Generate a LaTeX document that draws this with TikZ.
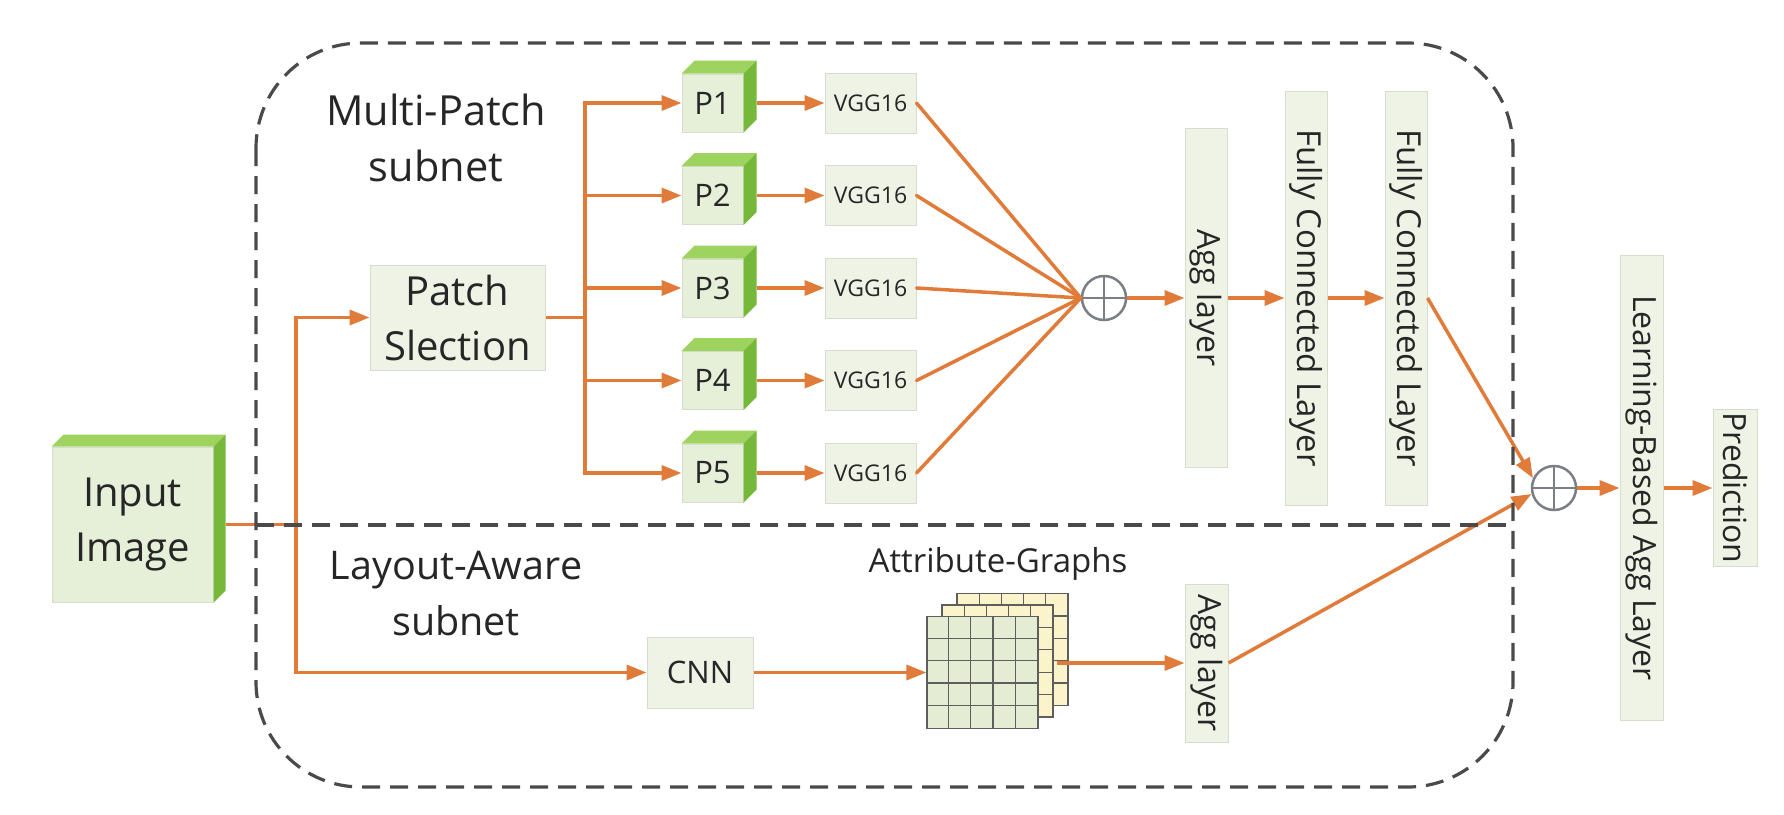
\documentclass[tikz,border=0pt]{standalone}
\usepackage{fontspec}
\setmainfont{Open Sans}
\usepackage{graphicx}
\usetikzlibrary{arrows.meta}
\definecolor{arr}{HTML}{E07B39}
\definecolor{boxfill}{HTML}{EFF3E6}
\definecolor{boxline}{HTML}{D6DDCC}
\definecolor{cubefill}{HTML}{E6EFD8}
\definecolor{greentop}{HTML}{9DD35E}
\definecolor{greenside}{HTML}{76B83A}
\definecolor{txt}{HTML}{262626}
\definecolor{dashc}{HTML}{4A4A4A}
\definecolor{gridfront}{HTML}{E4EDD4}
\definecolor{gridback}{HTML}{FBF4CB}
\definecolor{gridl}{HTML}{5E5E5E}
\definecolor{opl}{HTML}{7A7F85}
\newcommand{\cubeside}[2]{%
  \fill[greentop] (#1.north west) -- ++(#2,-#2) -- ([shift={(#2,-#2)}]#1.north east) -- (#1.north east) -- cycle;
  \fill[greenside] (#1.north east) -- ++(#2,-#2) -- ([shift={(#2,-#2)}]#1.south east) -- (#1.south east) -- cycle;}
\begin{document}
\begin{tikzpicture}[x=1pt,y=-1pt,
  box/.style={draw=boxline, line width=1pt, fill=boxfill, inner sep=0pt, text=txt, align=center},
  cube/.style={box, fill=cubefill},
  bigfont/.style={font=\fontsize{40}{55}\selectfont},
  midfont/.style={font=\fontsize{32}{38}\selectfont},
  fcfont/.style={font=\fontsize{33}{38}\selectfont},
  smallfont/.style={font=\fontsize{23}{28}\selectfont},
  lbl/.style={text=txt, align=center, inner sep=0pt},
  conn/.style={draw=arr, line width=3.5pt},
  arrow/.style={conn, -{Triangle[length=20pt,width=15pt]}},
  oplus/.style={circle, draw=opl, line width=2.5pt, minimum size=44pt, inner sep=0pt},
  dashbox/.style={draw=dashc, line width=3.2pt, dash pattern=on 18pt off 10pt},
  gridline/.style={draw=gridl, line width=1.3pt}
]
\useasboundingbox (0,0) rectangle (1784,814);
\fill[white] (0,0) rectangle (1784,814);

% ---------- nodes ----------
\node[cube, bigfont, minimum width=161pt, minimum height=155pt] (input) at (132.5,524.5) {Input\\Image};
\cubeside{input}{12}

\node[box, bigfont, minimum width=175pt, minimum height=105pt] (patch) at (457.5,317.5) {Patch\\Slection};

\foreach \i/\y in {1/103,2/195.5,3/288,4/380.5,5/473} {
  \node[cube, font=\fontsize{31}{36}\selectfont, minimum width=61pt, minimum height=58pt] (p\i) at (712.5,\y) {P\i};
  \cubeside{p\i}{13}
  \node[box, smallfont, minimum width=91pt, minimum height=60pt] (v\i) at (870.5,\y) {VGG16};
}

\node[oplus] (plus1) at (1104,298) {};
\draw[opl, line width=2.5pt] (plus1.north) -- (plus1.south) (plus1.west) -- (plus1.east);

\node[box, midfont, minimum width=42pt, minimum height=339pt] (agg1) at (1206,298) {\rotatebox{-90}{Agg layer}};
\node[box, fcfont, minimum width=42pt, minimum height=414pt] (fc1) at (1306,298) {\rotatebox{-90}{Fully Connected Layer}};
\node[box, fcfont, minimum width=42pt, minimum height=414pt] (fc2) at (1406,298) {\rotatebox{-90}{Fully Connected Layer}};

\node[oplus] (plus2) at (1554,488) {};
\draw[opl, line width=2.5pt] (plus2.north) -- (plus2.south) (plus2.west) -- (plus2.east);

\node[box, midfont, minimum width=43pt, minimum height=465pt] (lbal) at (1641.5,488) {\rotatebox{-90}{Learning-Based Agg Layer}};
\node[box, midfont, minimum width=44pt, minimum height=157pt] (pred) at (1735,488) {\rotatebox{-90}{Prediction}};

\node[box, font=\fontsize{31}{36}\selectfont, minimum width=106pt, minimum height=71pt] (cnn) at (700,672.5) {CNN};

% attribute graphs (stacked grids)
\foreach \k in {2,1} {
  \begin{scope}[shift={(15*\k,-11.5*\k)}]
    \filldraw[gridline, fill=gridback] (927,616.5) rectangle ++(111,112);
    \foreach \i in {1,...,4} {
      \draw[gridline] (927+22.2*\i,616.5) -- ++(0,112);
      \draw[gridline] (927,616.5+22.4*\i) -- ++(111,0);
    }
  \end{scope}
}
\node[gridline, fill=gridfront, minimum width=111pt, minimum height=112pt, inner sep=0pt] (graph) at (982.5,672.5) {};
\foreach \i in {1,...,4} {
  \draw[gridline] ([xshift=22.2*\i]graph.north west) -- ([xshift=22.2*\i]graph.south west);
  \draw[gridline] ([yshift=-22.4*\i]graph.north west) -- ([yshift=-22.4*\i]graph.north east);
}
\node[inner sep=0pt, text=txt, font=\fontsize{33}{38}\selectfont, anchor=base] (aglbl) at (998,572) {Attribute-Graphs};
\coordinate (gout) at (1057,663);

\node[box, midfont, minimum width=43pt, minimum height=158pt] (agg2) at (1206.5,663) {\rotatebox{-90}{Agg layer}};

% labels
\node[lbl, font=\fontsize{41.5}{56}\selectfont] (mplbl) at (436,138) {Multi-Patch\\subnet};
\node[lbl, font=\fontsize{39.5}{56}\selectfont] (lalbl) at (456,594) {Layout-Aware\\subnet};

% ---------- connectors ----------
\coordinate (split) at (296,524.5);
\coordinate (branch) at (585,317.5);
\draw[conn] ([xshift=12pt]input.east) -- (split);
\draw[arrow] (split) |- (patch.west);
\draw[arrow] (split) |- (cnn.west);
\draw[conn] (patch.east) -- (branch);
\foreach \i in {1,...,5} {
  \draw[arrow] (branch) |- (p\i.west);
  \draw[arrow] ([xshift=13pt]p\i.east) -- (v\i.west);
  \draw[conn, line cap=round] (v\i.east) -- (plus1.west);
}
\draw[arrow] (plus1.east) -- (agg1.west |- plus1.east);
\draw[arrow] (agg1.east) -- (fc1.west);
\draw[arrow] (fc1.east) -- (fc2.west);
\draw[arrow] (fc2.east) -- (plus2.155);
\draw[arrow] (cnn.east) -- (graph.west);
\draw[arrow] (gout) -- (agg2.west);
\draw[arrow] (agg2.east) -- (plus2.195);
\draw[arrow] (plus2.east) -- (lbal.west);
\draw[arrow] (lbal.east) -- (pred.west);

% ---------- dashed frame ----------
\draw[dashbox, rounded corners=105pt] (256,43) rectangle (1513,787);
\draw[dashbox] (256,525) -- (1513,525);
\end{tikzpicture}
\end{document}
